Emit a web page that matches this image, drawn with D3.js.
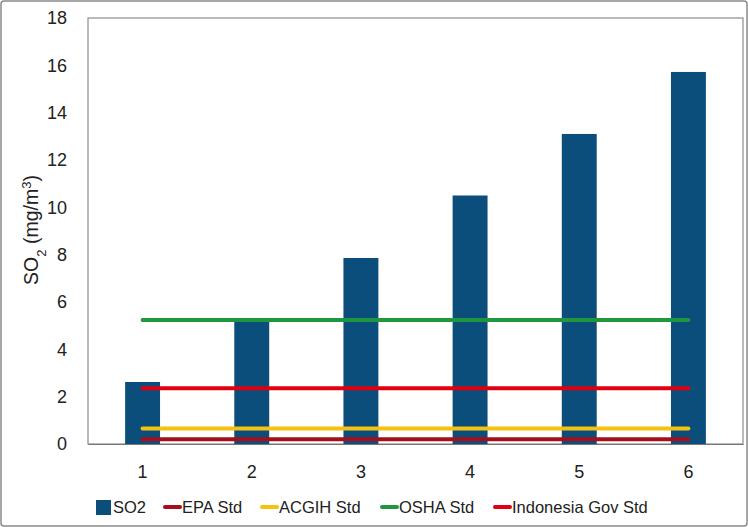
<!DOCTYPE html>
<html>
<head>
<meta charset="utf-8">
<script src="https://cdn.jsdelivr.net/npm/d3@7"></script>
<style>
  body { margin: 0; background: #fff; }
  svg { display: block; font-family: "Liberation Sans", Arial, sans-serif; }
</style>
</head>
<body>
<svg id="chart" width="748" height="527"></svg>
<script>
// values
const categories = ['1', '2', '3', '4', '5', '6'];
const so2 = [2.62, 5.22, 7.86, 10.5, 13.1, 15.72];
const stdNames = ['EPA Std', 'ACGIH Std', 'OSHA Std', 'Indonesia Gov Std'];
const stdValues = [0.2, 0.65, 5.24, 2.36];
const stdColors = ['#a3101c', '#f5c211', '#1f9640', '#e0000f'];
const yTicks = [0, 2, 4, 6, 8, 10, 12, 14, 16, 18];

const svg = d3.select('#chart');
const margin = {left: 88, top: 18, right: 5, bottom: 83};
const width = 748 - margin.left - margin.right;
const height = 527 - margin.top - margin.bottom;

svg.append('rect')
  .attr('x', 1).attr('y', 1)
  .attr('width', 746).attr('height', 525)
  .attr('rx', 3)
  .style('fill', 'none')
  .style('stroke', '#8a8a8a')
  .style('stroke-width', 1.5);

const g = svg.append('g').attr('transform', `translate(${margin.left},${margin.top})`);

const x = d3.scaleBand().domain(categories).range([0, width])
  .paddingInner(0.68).paddingOuter(0.34);
const y = d3.scaleLinear().domain([0, 18]).range([height, 0]);

// plot frame
g.append('rect')
  .attr('width', width).attr('height', height)
  .style('fill', 'none')
  .style('stroke', '#8c8c8c')
  .style('stroke-width', 1.2);

g.selectAll('.bar').data(so2).enter().append('rect')
  .attr('class', 'bar')
  .attr('x', (d, i) => x(categories[i]))
  .attr('y', d => y(d))
  .attr('width', x.bandwidth())
  .attr('height', d => height - y(d))
  .style('fill', '#0b4d7b');

const first = x(categories[0]) + x.bandwidth() / 2;
const last = x(categories[categories.length - 1]) + x.bandwidth() / 2;
g.selectAll('.std').data(stdValues).enter().append('line')
  .attr('class', 'std')
  .attr('x1', first).attr('x2', last)
  .attr('y1', d => y(d)).attr('y2', d => y(d))
  .style('stroke', (d, i) => stdColors[i])
  .style('stroke-width', 4)
  .style('stroke-linecap', 'round');

const yAxis = g.append('g')
  .call(d3.axisLeft(y).tickValues(yTicks).tickSize(0).tickPadding(21));
yAxis.select('.domain').remove();
yAxis.selectAll('text').style('font-size', '18px').style('fill', '#222');

const xAxis = g.append('g')
  .attr('transform', `translate(0,${height})`)
  .call(d3.axisBottom(x).tickSize(0).tickPadding(21));
xAxis.select('.domain').style('stroke', '#777');
xAxis.selectAll('text').style('font-size', '18px').style('fill', '#222');

const title = svg.append('text')
  .attr('transform', 'translate(38,230) rotate(-90)')
  .attr('text-anchor', 'middle')
  .style('font-size', '19.5px')
  .style('fill', '#222');
title.append('tspan').text('SO');
title.append('tspan').attr('baseline-shift', 'sub').style('font-size', '13px').text('2');
title.append('tspan').text(' (mg/m');
title.append('tspan').attr('baseline-shift', 'super').style('font-size', '13px').text('3');
title.append('tspan').text(')');

// legend
const legend = svg.append('g').attr('transform', 'translate(0,507)');
legend.append('rect')
  .attr('x', 96).attr('y', -7).attr('width', 15).attr('height', 15)
  .style('fill', '#0b4d7b');
legend.append('text').attr('x', 113).attr('y', 6)
  .style('font-size', '16.5px').style('fill', '#222').text('SO2');

const legendX = [163, 260, 380, 493];
stdNames.forEach((name, i) => {
  legend.append('line')
    .attr('x1', legendX[i] + 2).attr('x2', legendX[i] + 17)
    .attr('y1', 0).attr('y2', 0)
    .style('stroke', stdColors[i])
    .style('stroke-width', 4)
    .style('stroke-linecap', 'round');
  legend.append('text').attr('x', legendX[i] + 19).attr('y', 6)
    .style('font-size', '16.5px').style('fill', '#222').text(name);
});
</script>
</body>
</html>
